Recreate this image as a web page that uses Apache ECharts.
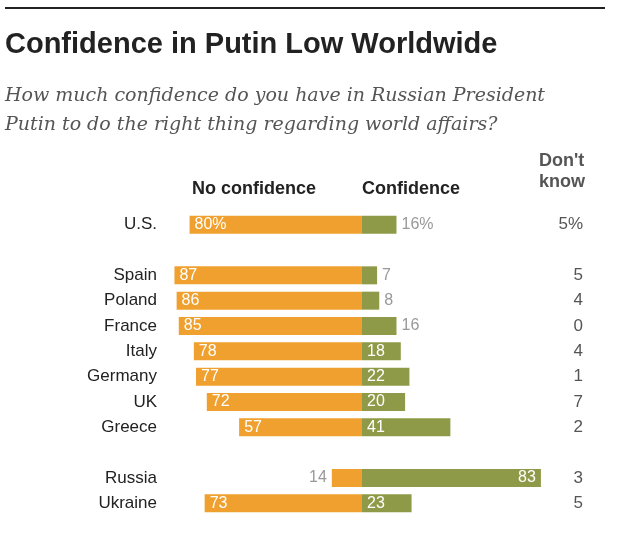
<!DOCTYPE html>
<html><head><meta charset="utf-8">
<script src="https://cdn.jsdelivr.net/npm/echarts@6/dist/echarts.min.js"></script>
<style>body{margin:0;background:#fff}#c{width:640px;height:538px}</style>
</head><body><div id="c"></div>
<script>
const countries = ['U.S.', '', 'Spain', 'Poland', 'France', 'Italy', 'Germany', 'UK', 'Greece', '', 'Russia', 'Ukraine'];
const noConfidence = [80, null, 87, 86, 85, 78, 77, 72, 57, null, 14, 73];
const confidence = [16, null, 7, 8, 16, 18, 22, 20, 41, null, 83, 23];
const dontKnow = ['5%', '', '5', '4', '0', '4', '1', '7', '2', '', '3', '5'];

const orange = '#EFA02E', olive = '#8E9A47';
const noData = noConfidence.map(v => v == null ? null : {
  value: -v,
  label: v < 20 ? {position: 'left', color: '#999'} : {position: 'insideLeft', color: '#fff'}
});
const conData = confidence.map(v => v == null ? null : {
  value: v,
  label: v < 17 ? {position: 'right', color: '#999'} : {position: v > 60 ? 'insideRight' : 'insideLeft', color: '#fff'}
});
const chart = echarts.init(document.getElementById('c'));
chart.setOption({
  animation: false,
  textStyle: {fontFamily: 'Liberation Sans, Arial, sans-serif'},
  graphic: [
    {type: 'line', shape: {x1: 5, y1: 8, x2: 605, y2: 8}, style: {stroke: '#222', lineWidth: 2}},
    {type: 'text', left: 5, top: 30, style: {text: 'Confidence in Putin Low Worldwide', font: 'bold 29px Liberation Sans, Arial', fill: '#222'}},
    {type: 'text', left: 5, top: 82, style: {text: 'How much confidence do you have in Russian President\nPutin to do the right thing regarding world affairs?', font: 'italic 19px DejaVu Serif, serif', fill: '#555', lineHeight: 29}},
    {type: 'text', left: 192, top: 180, style: {text: 'No confidence', font: 'bold 18px Liberation Sans, Arial', fill: '#222'}},
    {type: 'text', left: 362, top: 180, style: {text: 'Confidence', font: 'bold 18px Liberation Sans, Arial', fill: '#222'}},
    {type: 'text', right: 55, top: 151, style: {text: "Don't\nknow", font: 'bold 18px Liberation Sans, Arial', fill: '#555', align: 'right', lineHeight: 21}}
  ],
  grid: {left: 168, right: 84, top: 212, height: 304},
  xAxis: {type: 'value', min: -90, max: 90, show: false},
  yAxis: [
    {type: 'category', data: countries, inverse: true, axisLine: {show: false}, axisTick: {show: false},
     axisLabel: {margin: 11, fontSize: 17, color: '#222'}},
    {type: 'category', data: dontKnow, inverse: true, position: 'right', axisLine: {show: false}, axisTick: {show: false},
     axisLabel: {align: 'right', margin: 27, fontSize: 17, color: '#555'}}
  ],
  series: [
    {type: 'bar', stack: 'a', data: noData, barWidth: 18, itemStyle: {color: orange},
     label: {show: true, fontSize: 16, formatter: p => { const v = -p.value; return p.dataIndex === 0 ? v + '%' : v; }}},
    {type: 'bar', stack: 'a', data: conData, barWidth: 18, itemStyle: {color: olive},
     label: {show: true, fontSize: 16, formatter: p => p.dataIndex === 0 ? p.value + '%' : p.value}}
  ]
});
</script></body></html>
